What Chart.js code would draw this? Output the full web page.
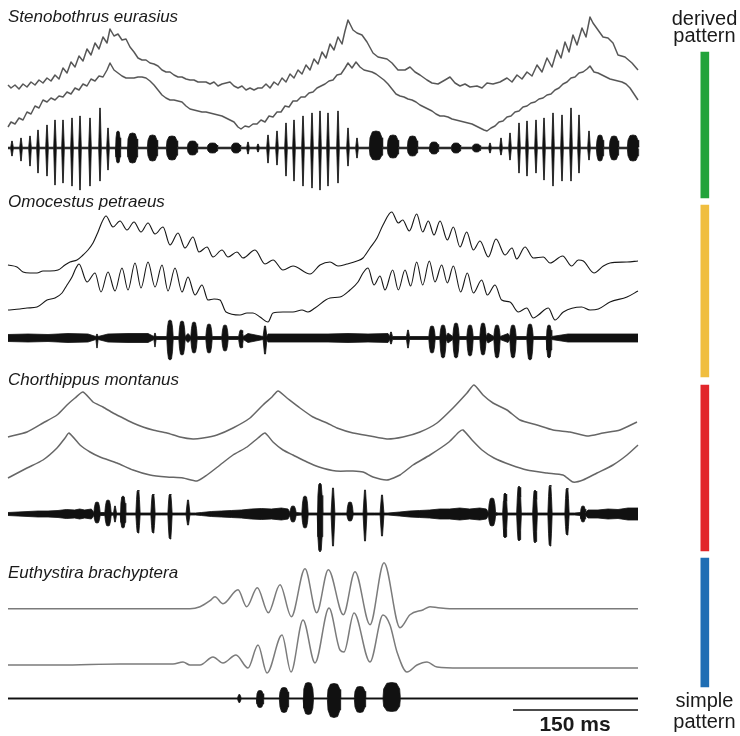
<!DOCTYPE html>
<html><head><meta charset="utf-8">
<script src="https://cdn.jsdelivr.net/npm/chart.js@4.4.0/dist/chart.umd.min.js"></script>
<style>
html,body{margin:0;padding:0;background:#fff;}
#wrap{position:relative;width:740px;height:736px;overflow:hidden;background:#fff;}
#c{position:absolute;left:0;top:0;}
.lbl{position:absolute;white-space:nowrap;color:#1a1a1a;font-family:"Liberation Sans",Arial,Helvetica,sans-serif;}
.title{font-style:italic;font-size:17px;line-height:17px;}
.side{font-size:20px;line-height:20px;width:100px;text-align:center;}
.scale{font-weight:bold;font-size:21px;line-height:21px;width:120px;text-align:center;}
</style></head>
<body><div id="wrap"><canvas id="c" width="740" height="736"></canvas></div>
<script>
// ---------- categories / labels ----------
const species = ['Stenobothrus eurasius','Omocestus petraeus','Chorthippus montanus','Euthystira brachyptera'];
const patternEnds = ['derived pattern','simple pattern'];
const scaleBarMs = 150;
const scaleLabel = '150 ms';
const recordMs = 756;

// ---------- leg movement traces: [time ms, deflection] ----------
const stenoLeg1 = [[0,0],[3.6,-3],[8.4,0],[13.2,-4],[18,1],[22.8,-2],[27.6,3],[32.4,0],[37.2,5],[42,2],[46.8,7],[51.6,4],[56.4,10],[61.2,6],[66,17],[70.8,12],[75.6,23],[80.4,18],[85.2,29],[90,24],[94.8,36],[99.6,30],[104.4,42],[109.2,36],[114,48],[118.8,42],[122.4,56],
[127.2,49],[132,51],[136.8,45],[141.6,46],[146.4,38],[151.2,33],[156,27],[160.8,25],[165.6,25],[170.4,22],[175.2,21],[180,19],[184.8,15],[189.6,13],[194.4,13],[199.2,10],[204,8],[208.8,8],[213.6,6],[218.4,5],[223.2,5],[228,3],[232.8,3],[237.6,3],[242.4,1],[247.2,3],[252,-1],[256.8,1],[261.6,2],[266.4,3],[271.2,-1],[276,-3],[280.8,-1],[285.6,-5],[290.4,-3],[295.2,-5],[300,-3],
[304.8,-3],[309.6,1],[314.4,-3],[319.2,3],[324,0],[328.8,7],[333.6,3],[338.4,11],[343.2,7],[348,15],[352.8,11],[357.6,20],[362.4,15],[367.2,26],[372,21],[376.8,33],[381.6,27],[386.4,41],[391.2,35],[396,48],[400.8,41],[404.4,54],[408,65],
[414,55],[418.8,52],[424.8,50],[430.8,43],[438,32],[444,28],[454.8,26],[460.8,22],[468,15],[476.4,15],[482.4,18],[488.4,13],[494.4,10],[502.8,5],[508.8,2],[516,1],[524.4,5],[530.4,8],[536.4,2],[542.4,-1],[548.4,1],[554.4,-2],[562.8,-1],[568.8,-3],[574.8,2],[582,1],[590.4,3],
[598.8,7],[604.8,3],[610.8,10],[616.8,6],[622.8,13],[628.8,9],[634.8,20],[640.8,13],[646.8,27],[652.8,18],[658.8,35],[663.6,27],[668.4,43],[673.2,33],[678,50],[682.8,40],[688.8,57],[693.6,48],[698.4,68],
[702,62],[708,55],[714,48],[720,47],[726,42],[732,30],[740.4,28],[748.8,22],[756,15]];

const stenoLeg2 = [[0,0],[3.6,5],[8.4,3],[13.2,9],[18,7],[22.8,15],[27.6,13],[32.4,21],[37.2,19],[42,27],[46.8,25],[51.6,29],[56.4,27],[61.2,31],[66,30],[70.8,35],[75.6,33],[80.4,39],[85.2,37],[90,43],[94.8,41],[99.6,48],[104.4,46],[109.2,51],[114,50],[118.8,57],[122.4,64],
[127.2,57],[132,54],[136.8,51],[141.6,49],[146.4,49],[151.2,49],[156,50],[160.8,50],[165.6,49],[170.4,46],[175.2,42],[180,37],[184.8,32],[189.6,29],[194.4,27],[199.2,27],[204,26],[208.8,25],[213.6,21],[218.4,18],[223.2,17],[228,16],[232.8,15],[237.6,15],[242.4,14],[247.2,13],[252,12],[256.8,11],[261.6,9],[266.4,7],[271.2,5],[276,0],[279.6,-2],[284.4,1],[289.2,0],[294,3],[298.8,3],
[303.6,7],[308.4,5],[313.2,11],[318,10],[322.8,15],[327.6,15],[332.4,21],[337.2,20],[342,26],[346.8,26],[351.6,30],[356.4,30],[361.2,34],[366,35],[370.8,39],[375.6,41],[380.4,43],[385.2,46],[390,47],[394.8,52],[399.6,53],[404.4,59],[408,64],[412.8,59],[417.6,65],[422.4,60],[427.2,57],[432,56],[436.8,55],[441.6,53],[446.4,50],[451.2,47],[456,43],[460.8,38],[465.6,33],[470.4,31],[475.2,30],[480,28],[484.8,27],[489.6,25],[494.4,22],[499.2,20],[504,18],[508.8,16],[513.6,13],[518.4,11],[523.2,11],[528,10],[532.8,8],[537.6,7],[542.4,6],[547.2,5],[552,4],[556.8,3],[561.6,1],[566.4,-1],[571.2,-3],[574.8,-4],[579.6,-1],[584.4,1],
[589.2,5],[594,6],[598.8,10],[603.6,11],[608.4,15],[613.2,16],[618,20],[622.8,21],[627.6,24],[632.4,25],[637.2,28],[642,29],[646.8,32],[651.6,33],[656.4,37],[661.2,39],[666,43],[670.8,45],[675.6,49],[680.4,50],[685.2,54],[690,55],[694.8,58],[698.4,61],[703.2,55],[708,54],[712.8,52],[717.6,50],[722.4,48],[727.2,47],[732,46],[736.8,45],[741.6,43],[746.4,39],[751.2,33],[756,27]];

const omoLeg1 = [[0,0],[10.8,-2],[18,-7],[26.4,-8],[34.8,-8],[42,-6],[50.4,-6],[60,-5],[68.4,0],[74.4,3],[82.8,5],[90,10],[96,15],[102,22],[108,33],[112.8,43],[117.6,49],[126,38],[134.4,44],[142.8,35],[151.2,43],[159.6,33],[168,42],[176.4,31],[186,38],[194.4,20],[204,32],[212.4,17],[222,28],[229.2,13],[238.8,18],[246,8],[256.8,15],[264,8],[274.8,13],[282,7],[296.4,15],[308.4,1],[318,5],[330,-5],[342,-1],[362.4,-9],[374.4,0],[386.4,3],[396,-1],[406.8,1],[418.8,4],[426,7],[434.4,17],[442.8,27],[450,40],[460.4,53],[468.4,42],[473.6,45],[481.6,34],[490.4,51],[497.6,33],[504.4,44],[511.2,30],[518.4,44],[527.2,25],[534.4,38],[542.4,18],[550.4,33],[558.4,15],[566.4,24],[576.4,8],[585.6,26],[596.4,10],[604.8,17],[610.4,6],[620.4,18],[630.4,7],[642.4,8],[650.4,2],[665.6,9],[676.4,-1],[684.4,5],[690.4,4],[703.2,-8],[714.4,-1],[722.4,2],[742.8,3],[756,4]];

const omoLeg2 = [[0,0],[14.4,1],[22.8,2],[34.8,3],[46.8,10],[56.4,12],[64.8,17],[70.8,25],[76.8,33],[81.6,42],[85.2,46],[94.8,28],[104.4,37],[111.6,18],[120,38],[128.4,19],[136.8,42],[144,20],[152.4,47],[159.6,22],[168,48],[176.4,23],[184.8,45],[192,19],[200.4,42],[208.8,18],[216,33],[224.4,15],[232.8,25],[240,10],[247.2,11],[254.4,10],[261.6,-2],[278.4,-5],[286.8,-3],[294,-3],[302.4,-7],[312,-12],[318,-3],[330,-2],[342,-2],[352.8,0],[360,-2],[368.4,2],[386.4,12],[398.4,13],[410.4,20],[420,28],[426,37],[432,42],[439.2,25],[446.4,34],[452.4,20],[461.6,40],[468.4,20],[476.4,40],[483.2,24],[490.4,48],[497.6,25],[505.6,49],[512.4,28],[520.4,45],[527.2,27],[534.4,44],[543.2,18],[551.2,37],[558.4,17],[568.4,30],[575.2,15],[584.4,25],[592.4,10],[602.4,8],[612.4,-2],[622.4,2],[630.4,-8],[636.4,-5],[648.4,2],[656.4,-10],[666.4,-2],[688.4,3],[698.4,0],[708.4,1],[722.4,8],[742.8,13],[756,19]];

const choLeg1 = [[0,0],[22.8,5],[42,14],[58.8,22],[70.8,32],[80.4,39],[90,45],[102,35],[114,30],[126,24],[138,19],[150,14],[162,10],[174,7],[190.8,4],[206.4,0],[222,-2],[234,-1],[250.8,2],[270,9],[290.4,19],[306,32],[316.8,40],[324,46],[334.8,39],[350.4,29],[366,20],[382.8,14],[394.8,9],[414,4],[434.4,1],[454.8,-2],[474,0],[494.4,5],[514.8,14],[534,29],[550.8,44],[559.2,52],[570,42],[582,34],[598.8,27],[614.4,17],[634.8,12],[654,7],[674.4,5],[694.8,1],[714,4],[734.4,7],[754.8,15]];

const choLeg2 = [[0,0],[22.8,10],[42,18],[58.8,30],[68.4,40],[73.2,45],[86.4,33],[98.4,26],[110.4,21],[130.8,15],[150,8],[170.4,3],[190.8,1],[210,0],[226.8,-3],[238.8,3],[254.4,13],[270,23],[286.8,31],[300,40],[308.4,45],[318,36],[330,28],[342,23],[358.8,16],[373.2,11],[393.6,7],[414,7],[426,6],[438,1],[454.8,-2],[470.4,3],[486,13],[506.4,23],[529.2,36],[541.2,46],[546,48],[556.8,38],[568.8,28],[583.2,20],[603.6,13],[622.8,8],[646.8,5],[666,3],[678,-4],[690,-2],[706.8,5],[726,13],[742.8,23],[756,33]];

const euthLeg1 = [[0,0],[110.4,0],[170.4,0],[218.4,0],[230.4,2],[242.4,8],[248.4,12],[258,5],[276,19],[286.4,2],[299.2,21],[312.4,-4],[326.4,24],[340,-8],[356.4,40],[370.4,-4],[384.4,39],[402.4,-6],[416.4,37],[434.4,-16],[451.2,46],[470.4,-19],[482.4,-6],[498.4,-1],[506.4,2],[516,1],[530,0],[650.4,0],[756,0]];

const euthLeg2 = [[0,0],[62.4,0],[134.4,1],[198,1],[210,3],[218.4,0],[230.4,0],[246,8],[258,2],[273.6,10],[288,-3],[300,20],[310.8,-8],[328.8,30],[339.6,-7],[354,45],[368.4,2],[385.2,57],[398.4,15],[403.2,13],[415.2,52],[434.4,3],[450,50],[458.4,40],[466.8,13],[478.8,-7],[490.8,0],[502.8,3],[514.8,-2],[542.4,-3],[756,-3]];

// ---------- sound: background level [time ms, level] and pulses [centre ms, duration ms, up, down] ----------
const stenoNoise = [[0,0.8],[756,0.8]];
const stenoPulses = [[4.8,1.5,7,8],[15.6,1.5,10,13],[26.4,1.5,12,18],[36,1.5,18,25],[46.8,1.5,23,28],[56.4,1.5,28,37],[66,1.5,28,35],[76.8,1.5,30,38],[86.4,1.5,32,42],[98.4,1.5,30,38],[110.4,1.5,40,33],[120,1.5,20,22],[132,4.8,17,15],[149.4,10.8,15,15],[173.4,10.8,13,13],[196.8,12,12,12],[221.4,10.8,7,7],[245.4,10.8,5,5],[273.6,9.6,5,5],[288,1.5,6,6],[300,1.5,4,4],[312,1.5,13,15],[322.8,1.5,17,17],[333.6,1.5,25,28],[343.2,1.5,28,33],[354,1.5,32,38],[364.8,1.5,35,40],[374.4,1.5,37,42],[384,1.5,35,38],[396,1.5,37,35],[408,1.5,20,18],[418.8,1.5,10,10],[441.6,14.4,17,12],[462,12,13,10],[485.4,10.8,12,8],[511.2,9.6,6,6],[537.6,9.6,5,5],[562.2,8.4,4,4],[578.4,1.5,5,5],[591.6,1.5,10,7],[602.4,1.5,15,12],[613.2,1.5,25,25],[622.8,1.5,27,28],[633.6,1.5,28,25],[643.2,1.5,30,32],[654,1.5,35,38],[664.8,1.5,33,33],[675.6,1.5,40,33],[685.2,1.5,33,25],[697.2,1.5,17,12],[710.4,7.2,13,13],[727.2,9.6,12,12],[750,12,13,13]];

const omoNoise = [[0,3.5],[24,4],[48,3.5],[72,4.5],[96,4],[120,4],[144,4.5],[168,4.5],[192,5],[216,4.5],[240,5],[264,4.5],[288,4.5],[312,4],[336,4],[360,4],[384,4],[408,4.5],[432,4],[456,4.5],[480,5],[504,4.5],[528,5],[552,4.5],[576,5],[600,4.5],[624,4.5],[648,4.5],[672,4],[696,4],[720,4],[744,4],[756,4]];
const omoPulses = [[106.8,1,4,10],[176.4,1,5,9],[194.4,6,18,22],[208.8,6,17,17],[223.2,6,16,15],[241.2,6,14,15],[260.4,6,13,13],[279.6,4,8,10],[308.4,3,12,16],[459.6,2,6,6],[480,2,8,10],[508.8,6,12,15],[522,6,13,20],[537.6,6,15,20],[554.4,6,13,18],[570,6,15,17],[586.8,6,13,20],[606,6,13,20],[626.4,6,14,22],[649.2,5,13,20]];

const choNoise = [[0,1.5],[12,2],[24,2.5],[36,3],[48,3],[60,3.5],[70,4.5],[80,4],[86,5],[92,4],[100,5],[146,1],[184,1],[205,1],[225,1],[232,1.5],[244,2.5],[256,3],[268,3.5],[280,4],[292,5],[304,5.5],[316,5],[328,6],[336,5],[366,1],[400,1],[420,1],[440,1],[456,1],[470,2],[482,3],[494,3.5],[506,4],[518,5],[530,5],[542,6],[554,5],[566,6],[574,5],[588,1],[605,1],[622,1],[641,1],[660,1],[680,1],[696,4],[708,4],[720,5],[732,4.5],[744,6],[756,6]];
const choPulses = [[106.8,6,12,9],[120,6,14,12],[128.4,2,8,8],[138,5,18,14],[156,3.5,24,19],[174,3.5,20,19],[194.4,3.5,20,25],[216,3,14,11],[342,6,8,8],[356.4,6,18,14],[374.4,5,31,38],[390,3,26,32],[410.4,6,12,7],[428.4,3,24,27],[448.8,3,19,22],[580.8,7,16,12],[596.4,4,21,24],[613.2,4,28,27],[632.4,4,24,29],[650.4,3.5,29,32],[670.8,3.5,26,21],[690,5,8,8]];

const euthNoise = [[0,0.6],[756,0.6]];
const euthPulses = [[277.6,3,4,4],[302.4,7.2,8,9],[331.2,9.6,11,14],[360.4,10.8,16,16],[391.2,14.4,15,19],[422.4,12,12,14],[460.4,19.2,16,13]];

// ---------- layout & style (not data) ----------
const LAYOUT = {
  xMin: -9.6, xMax: 878.4, yMax: 736,
  legBase: [[85,127],[265,310],[437,478],[608.7,665]],
  soundBase: [148,338,514,698.5],
  legColor: ['#575757','#161616','#666666','#7b7b7b'],
  legWidth: [1.5,1.1,1.5,1.5],
  legMode: ['sharp','smooth','soft','smooth'],
  bandX: 836.2,
  bands: [[52,198],[205,377],[385,551],[558,687]],
  bandColor: ['#21a33b','#f0be3f','#e2262b','#1f6eb4'],
  scaleBarY: 710,
  titleLeft: 8, titleTop: [7.6,193.3,371.3,563.9],
  sideCenter: 704.5, sideTopTop: [7.6,24.6], sideBottomTop: [689.8,711.1],
  scaleCenter: 575, scaleTop: 713.2
};

function envelope(noise, pulses) {
  const pts = [];
  const near = t => noise.reduce((b, n) => Math.abs(n[0]-t) < Math.abs(b[0]-t) ? n : b)[1];
  noise.forEach(([t, lv]) => {
    if (!pulses.some(([c, w]) => Math.abs(t - c) <= w/2 + 2)) pts.push([t, lv, lv]);
  });
  pulses.forEach(([c, w, up, dn]) => {
    const b = Math.min(near(c), 1.5);
    const h = w / 2;
    if (w <= 3) {
      pts.push([c-h-0.8,b,b],[c-h*0.4,up,dn],[c+h*0.4,up,dn],[c+h+0.8,b,b]);
    } else {
      pts.push([c-h-0.8,b,b],[c-h,0.6*up,0.6*dn],[c-h*0.6,0.95*up,0.95*dn],[c,up,dn],[c+h*0.6,0.95*up,0.95*dn],[c+h,0.6*up,0.6*dn],[c+h+0.8,b,b]);
    }
  });
  pts.sort((a,b)=>a[0]-b[0]);
  return pts;
}

const legs = [[stenoLeg1,stenoLeg2],[omoLeg1,omoLeg2],[choLeg1,choLeg2],[euthLeg1,euthLeg2]];
const sounds = [[stenoNoise,stenoPulses],[omoNoise,omoPulses],[choNoise,choPulses],[euthNoise,euthPulses]];

const datasets = [];
legs.forEach((pair, i) => {
  pair.forEach((pts, j) => {
    const base = LAYOUT.legBase[i][j];
    const mode = LAYOUT.legMode[i];
    datasets.push({
      type:'line', label: species[i] + ' leg ' + (j+1),
      data: pts.map(([t,v]) => ({x:t, y: base - v})),
      borderColor: LAYOUT.legColor[i], borderWidth: LAYOUT.legWidth[i],
      pointRadius: 0, fill: false,
      tension: mode === 'sharp' ? 0 : (mode === 'soft' ? 0.2 : 0.4),
      cubicInterpolationMode: mode === 'smooth' ? 'monotone' : 'default'
    });
  });
});
sounds.forEach(([noise, pulses], i) => {
  const env = envelope(noise, pulses);
  const base = LAYOUT.soundBase[i];
  datasets.push({type:'line', label: species[i] + ' sound', data: env.map(p => ({x:p[0], y: base - p[1]})), borderColor:'#111', borderWidth:0.8, pointRadius:0, fill:false, tension:0});
  datasets.push({type:'line', label: species[i] + ' sound (lower)', data: env.map(p => ({x:p[0], y: base + p[2]})), borderColor:'#111', borderWidth:0.8, pointRadius:0, fill:'-1', backgroundColor:'#111', tension:0});
});
datasets.push({type:'line', label:'scale', data:[{x: recordMs - scaleBarMs, y: LAYOUT.scaleBarY},{x: recordMs, y: LAYOUT.scaleBarY}], borderColor:'#111', borderWidth:1.4, pointRadius:0, fill:false, borderCapStyle:'butt'});
datasets.push({type:'bar', label:'pattern', data: LAYOUT.bands.map(b => ({x: LAYOUT.bandX, y: b})), backgroundColor: LAYOUT.bandColor, borderWidth:0, barThickness:8, grouped:false});

new Chart(document.getElementById('c'), {
  type:'line',
  data:{datasets},
  options:{
    responsive:false, animation:false, devicePixelRatio:1, events:[],
    layout:{padding:0},
    plugins:{legend:{display:false}, tooltip:{enabled:false}, title:{display:false}},
    scales:{
      x:{type:'linear', min:LAYOUT.xMin, max:LAYOUT.xMax, display:false, offset:false, grid:{offset:false}},
      y:{type:'linear', min:0, max:LAYOUT.yMax, reverse:true, display:false, offset:false}
    },
    elements:{point:{radius:0}, line:{borderJoinStyle:'round'}}
  }
});

// ---------- text ----------
const wrap = document.getElementById('wrap');
function addLabel(text, cls, left, top) {
  const d = document.createElement('div');
  d.className = 'lbl ' + cls; d.textContent = text;
  d.style.left = left + 'px'; d.style.top = top + 'px';
  wrap.appendChild(d);
}
species.forEach((s, i) => addLabel(s, 'title', LAYOUT.titleLeft, LAYOUT.titleTop[i]));
patternEnds[0].split(' ').forEach((w, k) => addLabel(w, 'side', LAYOUT.sideCenter - 50, LAYOUT.sideTopTop[k]));
patternEnds[1].split(' ').forEach((w, k) => addLabel(w, 'side', LAYOUT.sideCenter - 50, LAYOUT.sideBottomTop[k]));
addLabel(scaleLabel, 'scale', LAYOUT.scaleCenter - 60, LAYOUT.scaleTop);
</script></body></html>
